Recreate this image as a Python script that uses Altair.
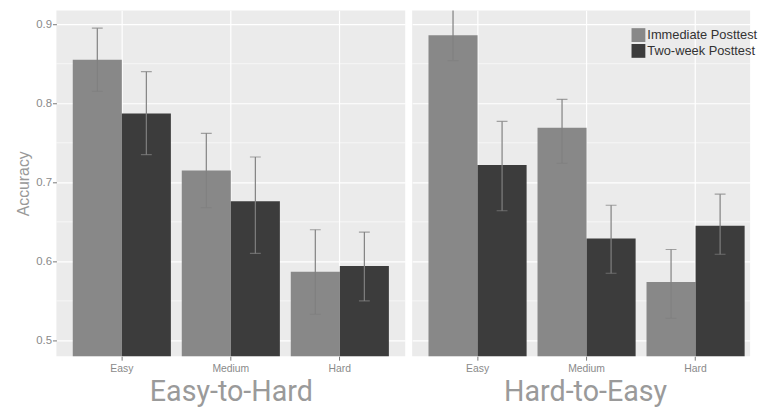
import altair as alt
import pandas as pd

difficulty = ["Easy", "Medium", "Hard"]
series = ["Immediate Posttest", "Two-week Posttest"]
conditions = ["Easy-to-Hard", "Hard-to-Easy"]

# Easy-to-Hard
eh_imm = [0.855, 0.715, 0.587]
eh_imm_lo = [0.815, 0.668, 0.533]
eh_imm_hi = [0.895, 0.762, 0.640]
eh_two = [0.787, 0.676, 0.594]
eh_two_lo = [0.735, 0.610, 0.550]
eh_two_hi = [0.840, 0.732, 0.637]

# Hard-to-Easy
he_imm = [0.886, 0.769, 0.574]
he_imm_lo = [0.854, 0.724, 0.528]
he_imm_hi = [0.919, 0.805, 0.615]
he_two = [0.722, 0.629, 0.645]
he_two_lo = [0.664, 0.585, 0.609]
he_two_hi = [0.777, 0.671, 0.685]

major_ticks = [0.5, 0.6, 0.7, 0.8, 0.9]
minor_ticks = [0.55, 0.65, 0.75, 0.85]


def make_df(imm, imm_lo, imm_hi, two, two_lo, two_hi):
    rows = []
    for i, d in enumerate(difficulty):
        rows.append(dict(difficulty=d, series=series[0], value=imm[i], lo=imm_lo[i], hi=imm_hi[i]))
        rows.append(dict(difficulty=d, series=series[1], value=two[i], lo=two_lo[i], hi=two_hi[i]))
    return pd.DataFrame(rows)


df_eh = make_df(eh_imm, eh_imm_lo, eh_imm_hi, eh_two, eh_two_lo, eh_two_hi)
df_he = make_df(he_imm, he_imm_lo, he_imm_hi, he_two, he_two_lo, he_two_hi)
minor_df = pd.DataFrame({"v": minor_ticks})

YDOM = [0.48, 0.9175]
ERR = "#808080"


def panel(df, cond, first, width, pad_outer, align, title_x):
    yscale = alt.Scale(domain=YDOM, nice=False, zero=False)
    if first:
        yaxis = alt.Axis(values=major_ticks, format=".1f", title="Accuracy",
                         grid=True, gridColor="white", gridWidth=1.2,
                         domain=False, tickColor="#777", tickSize=4, tickWidth=1,
                         labelColor="#8a8a8a", labelFontSize=11.5, labelPadding=1,
                         titleColor="#999", titleFontSize=16, titleFontWeight="normal",
                         titlePadding=4)
    else:
        yaxis = alt.Axis(values=major_ticks, title=None, labels=False, ticks=False,
                         grid=True, gridColor="white", gridWidth=1.2, domain=False)
    xscale = alt.Scale(domain=difficulty, paddingInner=0.1, paddingOuter=pad_outer, align=align)
    xaxis = alt.Axis(title=cond, labelAngle=0, labelColor="#8a8a8a", labelFontSize=10.5,
                     labelPadding=3,
                     domain=False, tickColor="#777", tickSize=4, bandPosition=0.5,
                     grid=True, gridColor="white", gridWidth=1.2,
                     titleFont="Roboto", titleFontWeight="normal", titleFontSize=29,
                     titleColor="#9a9a9a", titleX=title_x, titleY=45,
                     titleBaseline="alphabetic", titleAnchor="middle")
    x = alt.X("difficulty:N", sort=difficulty, scale=xscale, axis=xaxis)
    xo = alt.XOffset("series:N", sort=series, scale=alt.Scale(paddingInner=0, paddingOuter=0))

    minor = alt.Chart(minor_df).mark_rule(color="white", strokeWidth=0.6).encode(
        y=alt.Y("v:Q", scale=yscale, axis=yaxis)
    )
    base = alt.Chart(df)
    bars = base.mark_bar(clip=True).encode(
        x=x, xOffset=xo,
        y=alt.Y("value:Q", scale=yscale, axis=yaxis),
        color=alt.Color("series:N", sort=series,
                        scale=alt.Scale(domain=series, range=["#888888", "#3c3c3c"]),
                        legend=alt.Legend(title=None, orient="none", legendX=582, legendY=18,
                                          symbolType="square", symbolSize=196,
                                          symbolStrokeWidth=0, labelFontSize=13,
                                          labelColor="#333", rowPadding=2,
                                          labelOffset=2)),
    )
    rules = base.mark_rule(color=ERR, strokeWidth=1.2, clip=True).encode(
        x=x, xOffset=xo, y=alt.Y("lo:Q", scale=yscale), y2="hi:Q"
    )
    caps_hi = base.mark_tick(color=ERR, size=11, thickness=1.2, orient="horizontal",
                             clip=True).encode(
        x=x, xOffset=xo, y=alt.Y("hi:Q", scale=yscale)
    )
    caps_lo = base.mark_tick(color=ERR, size=11, thickness=1.2, orient="horizontal",
                             clip=True).encode(
        x=x, xOffset=xo, y=alt.Y("lo:Q", scale=yscale)
    )
    return alt.layer(minor, bars, rules, caps_hi, caps_lo).properties(width=width, height=350)


left = panel(df_eh, conditions[0], True, 353, 0.15, 0.5, 176.5)
right = panel(df_he, conditions[1], False, 342, 0.1, 0.75, 175)

chart = alt.hconcat(left, right, spacing=5).properties(
    padding={"left": 8, "top": 0, "right": 0, "bottom": 0}
).configure(font="Liberation Sans").configure_view(
    fill="#EBEBEB", stroke=None
)

chart.save("out.html", embed_options={"renderer": "svg", "actions": False})
